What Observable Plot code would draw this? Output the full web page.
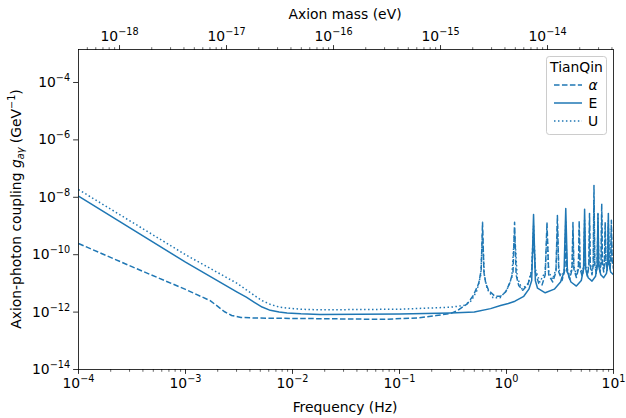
<!DOCTYPE html>
<html><head><meta charset="utf-8">
<script src="https://cdn.jsdelivr.net/npm/d3@7"></script>
<script src="https://cdn.jsdelivr.net/npm/@observablehq/plot@0.6"></script>
<style>body{margin:0;background:#fff;} #chart svg{display:block;}</style>
</head><body><div id="chart"></div>
<script>
// ---- Series names / legend ----
const legendTitle = "TianQin";
const seriesNames = ["α", "E", "U"];

// ---- α (dashed) ----
const alphaFreq = [1e-4, 3.5e-4, 1e-3, 1.7e-3, 2.0e-3, 2.3e-3, 2.7e-3, 3.3e-3, 4.7e-3, 1.8e-2, 7e-2, 0.15, 0.22, 0.3, 0.35, 0.43, 0.49, 0.55, 0.58,
  0.597, 0.615, 0.64, 0.68, 0.78, 0.88, 0.98, 1.07, 1.15, 1.19, 1.23, 1.3, 1.42, 1.58, 1.72, 1.79, 1.86, 2.0, 2.15, 2.3,
  2.39, 2.48, 2.7, 2.9, 2.99, 3.08, 3.3, 3.5, 3.58, 3.66, 3.9, 4.1, 4.18, 4.26, 4.5, 4.7, 4.78, 4.87, 5.1, 5.28, 5.37, 5.46,
  5.7, 5.88, 5.97, 6.07, 6.3, 6.47, 6.57, 6.68, 6.9, 7.06, 7.16, 7.27, 7.5, 7.65, 7.76, 7.88, 8.1, 8.24, 8.36, 8.49, 8.7,
  8.82, 8.95, 9.09, 9.3, 9.42, 9.55, 9.7, 10];
const alphaG = [2.45e-10, 3.24e-11, 6.17e-12, 2.5e-12, 1.58e-12, 1.05e-12, 7.6e-13, 6.5e-13, 6.2e-13, 5.9e-13, 5.6e-13, 6.3e-13, 7.6e-13, 8.9e-13, 1.15e-12, 1.95e-12, 3.8e-12, 1.0e-11, 2.9e-11,
  1.35e-9, 2.5e-11, 1.0e-11, 5.75e-12, 3.55e-12, 3.55e-12, 5.0e-12, 1.0e-11, 2.5e-11, 1.35e-9, 2.0e-11, 8.5e-12, 5.75e-12, 8.9e-12, 2.5e-11, 5.0e-10, 2.5e-11, 1.0e-11, 8.9e-12, 2.0e-11,
  1.32e-9, 2.0e-11, 1.12e-11, 2.5e-11, 2.3e-9, 2.5e-11, 1.26e-11, 2.8e-11, 6.3e-10, 2.8e-11, 1.4e-11, 3.2e-11, 1.32e-9, 3.2e-11, 1.6e-11, 3.2e-11, 1.48e-9, 3.2e-11, 1.78e-11, 3.55e-11, 7.9e-10, 3.55e-11,
  1.78e-11, 4.0e-11, 2.75e-9, 4.0e-11, 2.0e-11, 4.5e-11, 2.6e-8, 4.5e-11, 2.24e-11, 5.0e-11, 1.0e-9, 5.0e-11, 2.5e-11, 5.0e-11, 6.0e-9, 5.0e-11, 2.5e-11, 5.6e-11, 1.41e-9, 5.6e-11, 2.8e-11,
  6.3e-11, 1.0e-9, 6.3e-11, 3.2e-11, 6.3e-11, 1.58e-9, 6.3e-11, 3.2e-11];

// ---- E (solid) ----
const eFreq = [1e-4, 1e-3, 3.04e-3, 3.7e-3, 4.4e-3, 5.2e-3, 6.2e-3, 7.5e-3, 8.9e-3, 1.2e-2, 1.8e-2, 0.1, 0.3, 0.5, 0.71, 0.88, 1.04, 1.2, 1.45, 1.62, 1.72,
  1.79, 1.86, 1.95, 2.3, 2.8, 3.2, 3.45, 3.58, 3.71, 4.0, 4.5, 5.0, 5.25, 5.37, 5.49, 5.8, 6.3, 6.8, 7.04, 7.16, 7.28,
  7.6, 8.1, 8.6, 8.83, 8.95, 9.07, 9.4, 10];
const eG = [1.1e-8, 5.5e-11, 5.0e-12, 3.3e-12, 2.2e-12, 1.5e-12, 1.15e-12, 1.0e-12, 9.3e-13, 8.7e-13, 8.3e-13, 8.5e-13, 9.3e-13, 1.0e-12, 1.32e-12, 1.7e-12, 2.0e-12, 2.4e-12, 3.55e-12, 6.3e-12, 1.26e-11,
  2.5e-9, 1.26e-11, 6.8e-12, 4.7e-12, 6.3e-12, 1.12e-11, 2.5e-11, 4.1e-9, 2.5e-11, 1.12e-11, 8.1e-12, 1.26e-11, 3.2e-11, 3.8e-9, 3.2e-11, 1.58e-11, 1.2e-11, 1.78e-11, 4.0e-11, 2.75e-9, 4.0e-11,
  2.0e-11, 1.58e-11, 2.24e-11, 5.0e-11, 2.75e-9, 5.0e-11, 2.5e-11, 2.0e-11];

// ---- U (dotted) ----
const uFreq = [1e-4, 1e-3, 3.04e-3, 3.7e-3, 4.4e-3, 5.2e-3, 6.2e-3, 7.5e-3, 8.9e-3, 1.2e-2, 1.8e-2, 0.1, 0.3, 0.4, 0.47, 0.53, 0.575,
  0.597, 0.62, 0.66, 0.75, 0.87, 1.0, 1.12, 1.19, 1.26, 1.4, 1.6, 1.72, 1.79, 1.86, 2.05, 2.3, 2.39, 2.48, 2.7, 2.9,
  2.99, 3.08, 3.3, 3.5, 3.58, 3.66, 3.9, 4.1, 4.18, 4.26, 4.5, 4.7, 4.78, 4.87, 5.1, 5.28, 5.37, 5.46, 5.7, 5.88,
  5.97, 6.07, 6.3, 6.47, 6.57, 6.68, 6.9, 7.06, 7.16, 7.27, 7.5, 7.65, 7.76, 7.88, 8.1, 8.24, 8.36, 8.49, 8.7, 8.82,
  8.95, 9.09, 9.3, 9.42, 9.55, 9.7, 10];
const uG = [1.86e-8, 1.0e-10, 1.0e-11, 6.0e-12, 3.8e-12, 2.5e-12, 1.86e-12, 1.5e-12, 1.38e-12, 1.26e-12, 1.2e-12, 1.26e-12, 1.48e-12, 1.7e-12, 2.5e-12, 5.75e-12, 2.0e-11,
  6.3e-10, 2.0e-11, 6.3e-12, 3.16e-12, 3.16e-12, 5.6e-12, 1.58e-11, 6.3e-10, 1.58e-11, 6.3e-12, 1.0e-11, 3.2e-11, 1.0e-9, 3.2e-11, 1.12e-11, 2.5e-11, 6.3e-10, 2.5e-11, 1.4e-11, 3.2e-11,
  1.0e-9, 3.2e-11, 1.58e-11, 3.55e-11, 1.58e-9, 3.55e-11, 1.78e-11, 4.0e-11, 6.3e-10, 4.0e-11, 2.0e-11, 4.0e-11, 7.9e-10, 4.0e-11, 2.24e-11, 4.5e-11, 1.58e-9, 4.5e-11, 2.24e-11, 5.0e-11,
  1.26e-9, 5.0e-11, 2.5e-11, 5.0e-11, 6.3e-9, 5.0e-11, 2.8e-11, 5.6e-11, 2.5e-9, 5.6e-11, 3.2e-11, 6.3e-11, 2.5e-9, 6.3e-11, 3.2e-11, 6.3e-11, 7.9e-10, 6.3e-11, 3.55e-11, 7.1e-11,
  1.58e-9, 7.1e-11, 4.0e-11, 7.1e-11, 7.9e-10, 7.1e-11, 4.0e-11];

// ---- Axes ----
const xDomain = [1e-4, 10];
const yDomain = [1e-14, 1.41e-3];
const xTickExp = [-4, -3, -2, -1, 0, 1];
const yTickExp = [-14, -12, -10, -8, -6, -4];
const massTickExp = [-18, -17, -16, -15, -14];
const planckEvS = 4.135667696e-15; // eV per Hz (m = h f)
const xLabel = "Frequency (Hz)";
const topLabel = "Axion mass (eV)";

const color = "#1f77b4";
const toRows = (fs, gs) => fs.map((f, i) => ({f, g: gs[i]}));
const alpha = toRows(alphaFreq, alphaG);
const eSer = toRows(eFreq, eG);
const uSer = toRows(uFreq, uG);

const xMajor = xTickExp.map(e => 10 ** e);
const xMinor = [];
for (let e = -4; e <= 0; e++) for (let k = 2; k <= 9; k++) xMinor.push(k * 10 ** e);
const yMajor = yTickExp.map(e => 10 ** e);
const topMajor = massTickExp.map(e => 10 ** e / planckEvS);
const topMinor = [];
for (let e = -19; e <= -14; e++) for (let k = 2; k <= 9; k++) {
  const f = k * 10 ** e / planckEvS;
  if (f >= xDomain[0] && f <= xDomain[1]) topMinor.push(f);
}
const expFmt = v => "10^" + Math.round(Math.log10(v));

const dashes = {"α": "5.55,2.4", "E": null, "U": "1.5,2.475"};

const chart = Plot.plot({
  width: 626, height: 418,
  marginLeft: 78, marginRight: 13, marginTop: 49, marginBottom: 49,
  style: {fontFamily: "DejaVu Sans", fontSize: "13.9px", background: "white", color: "black"},
  x: {type: "log", domain: xDomain},
  y: {type: "log", domain: yDomain},
  marks: [
    Plot.line(alpha, {x: "f", y: "g", stroke: color, strokeWidth: 1.5, strokeDasharray: dashes["α"], strokeLinecap: "butt", clip: true}),
    Plot.line(eSer, {x: "f", y: "g", stroke: color, strokeWidth: 1.5, strokeLinecap: "butt", clip: true}),
    Plot.line(uSer, {x: "f", y: "g", stroke: color, strokeWidth: 1.5, strokeDasharray: dashes["U"], strokeLinecap: "butt", clip: true}),
    Plot.frame({stroke: "black", strokeWidth: 0.8}),
    Plot.axisX({ticks: xMajor, anchor: "bottom", tickSize: 4.9, tickPadding: 3.5, tickFormat: expFmt, label: null, strokeWidth: 0.8}),
    Plot.axisX({ticks: xMinor, anchor: "bottom", tickSize: 2.8, tickFormat: () => "", label: null, strokeWidth: 0.6}),
    Plot.axisX({ticks: topMajor, anchor: "top", tickSize: 4.9, tickFormat: () => "", label: null, strokeWidth: 0.8}),
    Plot.axisX({ticks: topMinor, anchor: "top", tickSize: 2.8, tickFormat: () => "", label: null, strokeWidth: 0.6}),
    Plot.text(topMajor, {x: d => d, frameAnchor: "top", dy: -8.4, lineAnchor: "bottom", text: d => expFmt(d * planckEvS), fontSize: 13.9, fill: "black"}),
    Plot.axisY({ticks: yMajor, anchor: "left", tickSize: 4.9, tickPadding: 3.5, tickFormat: expFmt, label: null, strokeWidth: 0.8})
  ]
});
document.getElementById("chart").append(chart);

const NS = "http://www.w3.org/2000/svg";
// superscript exponents in tick labels
chart.querySelectorAll("text").forEach(t => {
  const m = t.textContent.match(/^10\^(-?\d+)$/);
  if (!m) return;
  t.textContent = "";
  const a = document.createElementNS(NS, "tspan"); a.textContent = "10";
  const b = document.createElementNS(NS, "tspan"); b.textContent = m[1].replace("-", "\u2212");
  b.setAttribute("font-size", "9.7px"); b.setAttribute("dy", "-6");
  t.append(a, b);
});

const svg = d3.select(chart);
// axis titles
svg.append("text").attr("x", 345).attr("y", 412).attr("text-anchor", "middle")
  .attr("font-family", "DejaVu Sans").attr("font-size", "13.9px").attr("fill", "black").text(xLabel);
svg.append("text").attr("x", 345).attr("y", 19).attr("text-anchor", "middle")
  .attr("font-family", "DejaVu Sans").attr("font-size", "13.9px").attr("fill", "black").text(topLabel);
const yl = svg.append("text").attr("transform", "translate(20.5,209) rotate(-90)").attr("text-anchor", "middle")
  .attr("font-family", "DejaVu Sans").attr("font-size", "13.9px").attr("fill", "black");
yl.append("tspan").text("Axion-photon coupling ");
yl.append("tspan").attr("font-style", "italic").text("g");
yl.append("tspan").attr("font-style", "italic").attr("font-size", "9.7px").attr("dy", 3).text("aγ");
yl.append("tspan").attr("dy", -3).text(" (GeV");
yl.append("tspan").attr("font-size", "9.7px").attr("dy", -6).text("\u22121");
yl.append("tspan").attr("dy", 6).text(")");

// legend
const lg = svg.append("g").attr("font-family", "DejaVu Sans").attr("font-size", "13.9px");
lg.append("rect").attr("x", 546.5).attr("y", 56.5).attr("width", 60).attr("height", 78).attr("rx", 2.8)
  .attr("fill", "white").attr("fill-opacity", 0.8).attr("stroke", "#cccccc").attr("stroke-width", 1);
lg.append("text").attr("x", 576.5).attr("y", 72).attr("text-anchor", "middle").attr("fill", "black").text(legendTitle);
seriesNames.forEach((name, i) => {
  const yy = 85 + i * 18;
  const ln = lg.append("line").attr("x1", 554).attr("x2", 582).attr("y1", yy).attr("y2", yy)
    .attr("stroke", color).attr("stroke-width", 1.5);
  if (dashes[name]) ln.attr("stroke-dasharray", dashes[name]);
  const tx = lg.append("text").attr("x", 593).attr("y", yy + 5).attr("fill", "black").text(name);
  if (name === "α") tx.attr("font-style", "italic");
});
</script>
</body></html>
